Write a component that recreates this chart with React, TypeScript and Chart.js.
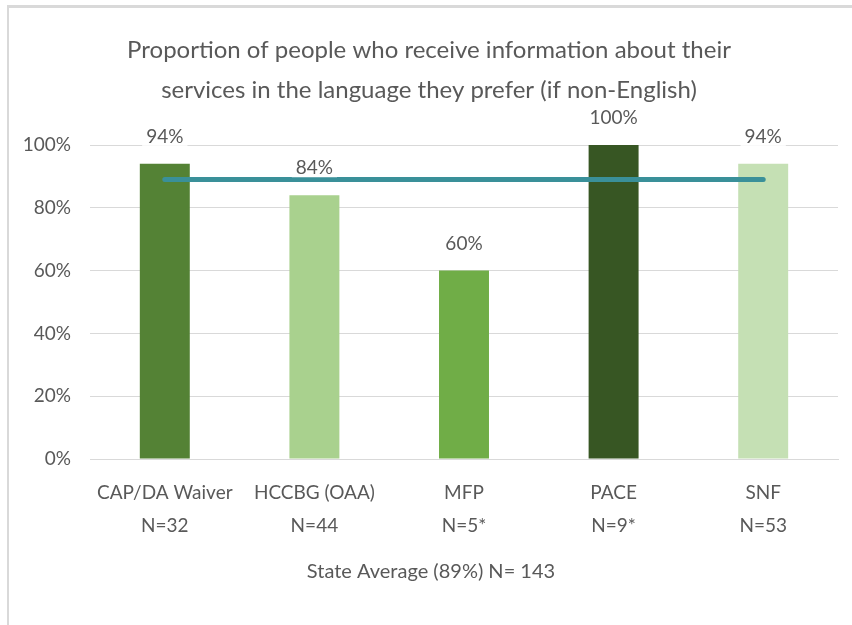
import React, { useEffect, useRef } from "react";
import { Chart, registerables } from "chart.js";

Chart.register(...registerables);

const categories: string[][] = [
  ["CAP/DA Waiver", "N=32"],
  ["HCCBG (OAA)", "N=44"],
  ["MFP", "N=5*"],
  ["PACE", "N=9*"],
  ["SNF", "N=53"],
];
const values = [94, 84, 60, 100, 94];
const barColors = ["#548235", "#a9d18e", "#70ad47", "#375623", "#c5e0b4"];
const stateAverage = [89, 89, 89, 89, 89];
const titleLines = [
  "Proportion of people who receive information about their",
  "services in the language they prefer (if non-English)",
];
const xAxisTitle = "State Average (89%) N= 143";
const yMax = 100;
const yStep = 20;

const FONT = "Lato, 'Liberation Sans', sans-serif";
const TEXT = "#595959";

const textPlugin = {
  id: "customText",
  afterDatasetsDraw(chart: any) {
    const ctx = chart.ctx;
    const meta = chart.getDatasetMeta(0);
    ctx.save();
    ctx.font = `19px ${FONT}`;
    ctx.textAlign = "center";
    ctx.textBaseline = "middle";
    meta.data.forEach((el: any, i: number) => {
      const label = `${values[i]}%`;
      const x = el.x;
      const y = el.y - 27;
      const w = ctx.measureText(label).width + 8;
      ctx.fillStyle = "#ffffff";
      ctx.fillRect(x - w / 2, y - 9, w, 18);
      ctx.fillStyle = TEXT;
      ctx.fillText(label, x, y);
    });
    ctx.restore();
  },
  afterDraw(chart: any) {
    const ctx = chart.ctx;
    ctx.save();
    ctx.fillStyle = TEXT;
    ctx.textAlign = "center";
    ctx.textBaseline = "middle";
    ctx.font = `24px ${FONT}`;
    ctx.fillText(titleLines[0], 429, 50);
    ctx.fillText(titleLines[1], 429, 90);
    ctx.font = `20px ${FONT}`;
    ctx.fillText(xAxisTitle, 431, 572);
    ctx.restore();
  },
};

export default function App() {
  const ref = useRef<HTMLCanvasElement>(null);
  useEffect(() => {
    if (!ref.current) return;
    const chart = new Chart(ref.current, {
      type: "bar",
      data: {
        labels: categories,
        datasets: [
          {
            type: "bar",
            data: values,
            backgroundColor: barColors,
            borderWidth: 0,
            categoryPercentage: 1,
            barPercentage: 0.334,
            order: 1,
          } as any,
          {
            type: "line",
            data: stateAverage,
            borderColor: "#3a9099",
            borderWidth: 5,
            borderCapStyle: "round",
            pointRadius: 0,
            fill: false,
            order: 0,
          } as any,
        ],
      },
      options: {
        responsive: false,
        animation: false,
        layout: { padding: { top: 145, right: 14, bottom: 0, left: 0 } },
        plugins: {
          legend: { display: false },
          title: { display: false },
          tooltip: { enabled: false },
        },
        scales: {
          x: {
            grid: { display: false, drawTicks: false },
            border: { display: true, color: "#d9d9d9", width: 1 },
            ticks: {
              color: TEXT,
              font: { family: FONT, size: 19, lineHeight: 1.7 },
              padding: 18,
              maxRotation: 0,
              autoSkip: false,
            },
            afterFit: (s: any) => {
              s.height = 166;
            },
          },
          y: {
            min: 0,
            max: yMax,
            grid: { color: "#d9d9d9", lineWidth: 1, drawTicks: false },
            border: { display: false },
            ticks: {
              stepSize: yStep,
              color: TEXT,
              padding: 19,
              font: { family: FONT, size: 19 },
              callback: (v: any) => `${v}%`,
            },
            afterFit: (s: any) => {
              s.width = 90;
            },
          },
        },
      },
      plugins: [textPlugin],
    });
    return () => chart.destroy();
  }, []);

  return (
    <div style={{ position: "absolute", left: 0, top: 0, width: 852, height: 625, background: "#fff" }}>
      <div
        style={{
          position: "absolute",
          left: 7,
          top: 5,
          right: 0,
          bottom: 0,
          borderTop: "3px solid #d9d9d9",
          borderLeft: "2px solid #d9d9d9",
        }}
      />
      <canvas ref={ref} width={852} height={625} style={{ position: "absolute", left: 0, top: 0 }} />
    </div>
  );
}
